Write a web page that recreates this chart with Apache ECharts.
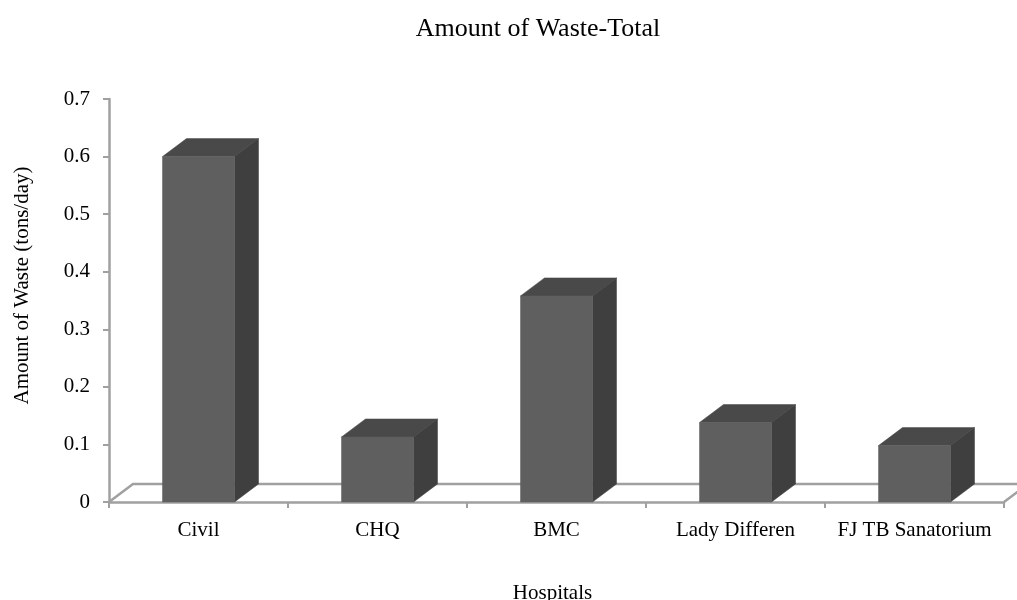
<!DOCTYPE html>
<html><head><meta charset="utf-8">
<style>html,body{margin:0;padding:0;background:#fff}#c{width:1017px;height:600px}</style>
<script src="https://cdn.jsdelivr.net/npm/echarts@6/dist/echarts.min.js"></script>
</head><body><div id="c"></div>
<script>
const categories = ['Civil','CHQ','BMC','Lady Differen','FJ TB Sanatorium'];
const wasteValues = [0.6,0.113,0.358,0.138,0.098];
const chartTitle = 'Amount of Waste-Total';
const xName = 'Hospitals';
const yName = 'Amount of Waste (tons/day)';

const FONT = '"Liberation Serif","Times New Roman",serif';
const DX = 24, DY = 18, BAR = 72;
const AXIS = '#a0a0a0';

function renderFloor(params, api){
  const g = params.coordSys;
  const x0 = g.x, x1 = g.x + g.width, y0 = g.y + g.height;
  return {type:'polyline', silent:true, shape:{points:[
      [x0,y0],[x0+DX,y0-DY],[x1+DX,y0-DY],[x1,y0]
    ]}, style:{fill:null, stroke:AXIS, lineWidth:2.5}};
}
function renderBar(params, api){
  const top = api.coord([api.value(0), api.value(1)]);
  const base = api.coord([api.value(0), 0]);
  const l = top[0]-BAR/2, r = top[0]+BAR/2, t = top[1], b = base[1];
  return {type:'group', children:[
    {type:'polygon', shape:{points:[[l,t],[l+DX,t-DY],[r+DX,t-DY],[r,t]]},
     style:{fill:'#494949', stroke:'#494949', lineWidth:0.5}},
    {type:'polygon', shape:{points:[[r,t],[r+DX,t-DY],[r+DX,b-DY],[r,b]]},
     style:{fill:'#3f3f3f', stroke:'#3f3f3f', lineWidth:0.5}},
    {type:'rect', shape:{x:l,y:t,width:BAR,height:b-t},
     style:{fill:'#5f5f5f', stroke:'#5f5f5f', lineWidth:0.5}}
  ]};
}
const chart = echarts.init(document.getElementById('c'),null,{renderer:'canvas'});
chart.setOption({
  animation:false,
  backgroundColor:'#fff',
  title:{text:chartTitle,left:533,top:11,textAlign:'center',
    textStyle:{fontFamily:FONT,fontSize:26,fontWeight:'normal',color:'#000'}},
  grid:{left:109,right:13,top:99,bottom:98,outerBoundsMode:'none'},
  xAxis:{type:'category',data:categories,name:xName,nameLocation:'middle',nameGap:81,
    nameTextStyle:{fontFamily:FONT,fontSize:21,color:'#000',padding:[0,8,0,0]},
    axisLine:{lineStyle:{color:AXIS,width:2.5}},
    axisTick:{show:true,alignWithLabel:false,length:6,lineStyle:{color:AXIS,width:2}},
    axisLabel:{fontFamily:FONT,fontSize:21,color:'#000',margin:18,interval:0},
    splitLine:{show:false}},
  yAxis:{type:'value',min:0,max:0.7,interval:0.1,name:yName,nameLocation:'middle',nameGap:76,nameRotate:90,
    nameTextStyle:{fontFamily:FONT,fontSize:21,color:'#000',padding:[0,0,0,30]},
    axisLine:{show:true,lineStyle:{color:AXIS,width:2.5}},
    axisTick:{show:true,length:6,lineStyle:{color:AXIS,width:2}},
    axisLabel:{fontFamily:FONT,fontSize:21,color:'#000',margin:19},
    splitLine:{show:false}},
  series:[
    {type:'custom',coordinateSystem:'cartesian2d',data:[[0,0]],renderItem:renderFloor,z:1,silent:true,clip:false},
    {type:'custom',coordinateSystem:'cartesian2d',
     data:categories.map((c,i)=>[i,wasteValues[i]]),
     encode:{x:0,y:1},renderItem:renderBar,z:2}
  ]
});
</script></body></html>
